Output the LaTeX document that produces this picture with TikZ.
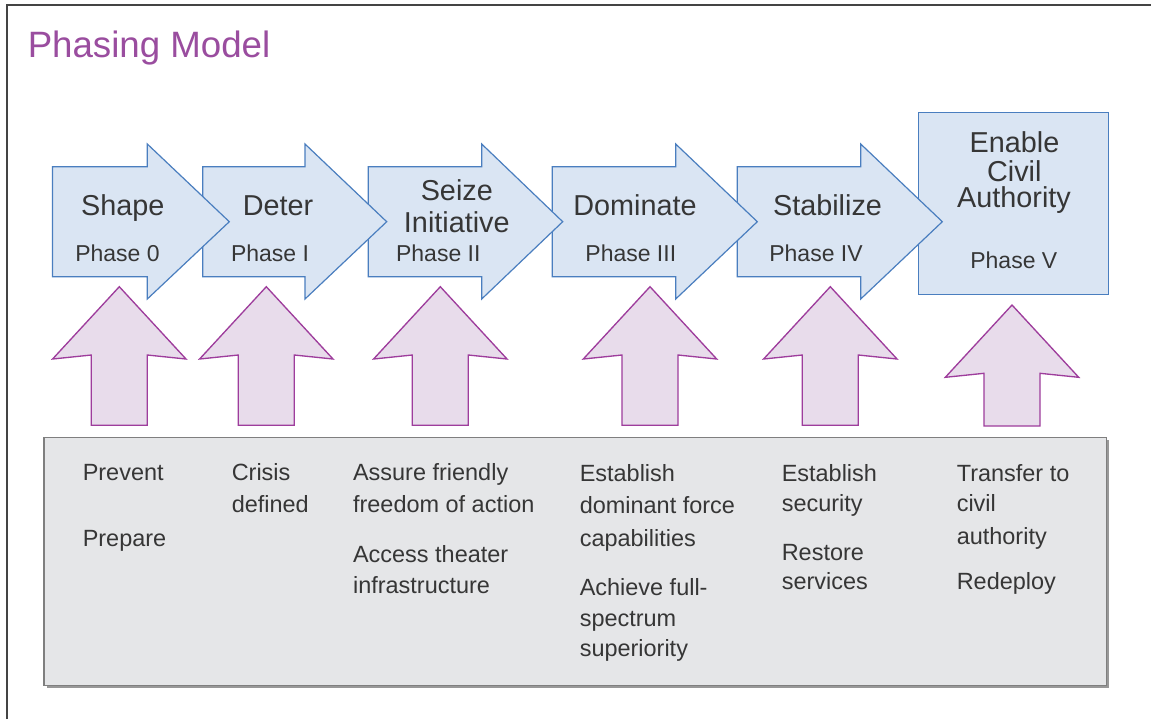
\documentclass[tikz,border=0pt]{standalone}
\usepackage{fontspec}
\setmainfont{Liberation Sans}
\definecolor{bluefill}{HTML}{DAE5F3}
\definecolor{bluedraw}{HTML}{4A7EBF}
\definecolor{purpfill}{HTML}{E8DCEB}
\definecolor{purpdraw}{HTML}{9E3D9C}
\definecolor{grayfill}{HTML}{E5E6E8}
\definecolor{graydraw}{HTML}{7F7F7F}
\definecolor{titlecol}{HTML}{9A4D9F}
\definecolor{txtcol}{HTML}{363636}
\definecolor{framecol}{HTML}{444444}
\newcommand\blueArr[3]{\draw[bluearr] (#1,166.7) -- (#2,166.7) -- (#2,144) -- (#3,221.7) -- (#2,299) -- (#2,276.7) -- (#1,276.7) -- cycle;}
\newcommand\purpArr[4]{\draw[purparr] (#1,#2) -- ({#1+66.7},#3) -- ({#1+28},{#3-4}) -- ({#1+28},#4) -- ({#1-28},#4) -- ({#1-28},{#3-4}) -- ({#1-66.7},#3) -- cycle;}
\begin{document}
\begin{tikzpicture}[x=0.75pt,y=-0.75pt,
  bluearr/.style={fill=bluefill,draw=bluedraw,line width=0.9pt,line join=miter},
  purparr/.style={fill=purpfill,draw=purpdraw,line width=1pt,line join=miter},
  lbl/.style={inner sep=0pt,anchor=base,text=txtcol,font=\fontsize{21.6}{26}\selectfont},
  phs/.style={inner sep=0pt,anchor=base,text=txtcol,font=\fontsize{17.25}{21}\selectfont},
  gtx/.style={inner sep=0pt,anchor=base west,text=txtcol,font=\fontsize{17.6}{21}\selectfont}]
\useasboundingbox (0,0) rectangle (1151,719);
\fill[white] (0,0) rectangle (1151,719);
% frame
\draw[framecol,line width=1.6pt] (7.2,719) -- (7.2,5.3) -- (1151,5.3);
% title
\node[inner sep=0pt,anchor=base west,text=titlecol,font=\fontsize{27.5}{33}\selectfont] (title) at (27.5,57.7) {Phasing Model};
% phase V box
\draw[bluearr] (918.3,112.3) rectangle (1108.7,294.3);
% blue arrows (later ones underneath)
\blueArr{737.3}{860.7}{942.3}
\blueArr{552.3}{675.7}{757.3}
\blueArr{368.3}{481.7}{562.7}
\blueArr{202.7}{305}{386.7}
\blueArr{52.5}{147.3}{229.3}
% purple arrows
\purpArr{119.3}{286.7}{359}{425.3}
\purpArr{266.3}{286.7}{359}{425.3}
\purpArr{440.3}{286.7}{359}{425.3}
\purpArr{650}{286.7}{359}{425.3}
\purpArr{830.3}{286.7}{359}{425.3}
\purpArr{1012}{305}{377.3}{426}
% gray box with shadow
\fill[graydraw!80] (46.5,440) rectangle (1109.2,688.2);
\draw[fill=grayfill,draw=graydraw,line width=0.9pt] (44,437.3) rectangle (1106.7,685.7);
% phase labels
\node[lbl] (shape) at (122.8,215) {Shape};
\node[phs] (p0) at (117.5,261) {Phase 0};
\node[lbl] (deter) at (278,215) {Deter};
\node[phs] (p1) at (270,261) {Phase I};
\node[lbl] (seize) at (456.8,200.7) {Seize};
\node[lbl] (initiative) at (456.8,232.3) {Initiative};
\node[phs] (p2) at (438.3,261) {Phase II};
\node[lbl] (dominate) at (635,215) {Dominate};
\node[phs] (p3) at (630.8,261) {Phase III};
\node[lbl] (stabilize) at (827.5,215) {Stabilize};
\node[phs] (p4) at (816,261) {Phase IV};
\node[lbl] (enable) at (1014.5,152.7) {Enable};
\node[lbl] (civil) at (1014.3,181) {Civil};
\node[lbl] (authority) at (1014,207.3) {Authority};
\node[phs] (p5) at (1013.8,268.7) {Phase V};
% gray box texts
\node[gtx] (c1a) at (82.5,480.7) {Prevent};
\node[gtx] (c1b) at (82.5,546.5) {Prepare};
\node[gtx] (c2a) at (231.5,480.7) {Crisis};
\node[gtx] (c2b) at (231.5,512.3) {defined};
\node[gtx] (c3a) at (352.8,480.7) {Assure friendly};
\node[gtx] (c3b) at (352.8,512.3) {freedom of action};
\node[gtx] (c3c) at (352.8,562.7) {Access theater};
\node[gtx] (c3d) at (352.8,593) {infrastructure};
\node[gtx] (c4a) at (579.5,481) {Establish};
\node[gtx] (c4b) at (579.5,513) {dominant force};
\node[gtx] (c4c) at (579.5,546) {capabilities};
\node[gtx] (c4d) at (579.5,595) {Achieve full-};
\node[gtx] (c4e) at (579.5,626) {spectrum};
\node[gtx] (c4f) at (579.5,656) {superiority};
\node[gtx] (c5a) at (781.5,481) {Establish};
\node[gtx] (c5b) at (781.5,511) {security};
\node[gtx] (c5c) at (781.5,560) {Restore};
\node[gtx] (c5d) at (781.5,589) {services};
\node[gtx] (c6a) at (956.5,481) {Transfer to};
\node[gtx] (c6b) at (956.5,511.6) {civil};
\node[gtx] (c6c) at (956.5,544) {authority};
\node[gtx] (c6d) at (956.5,589) {Redeploy};
\end{tikzpicture}
\end{document}
